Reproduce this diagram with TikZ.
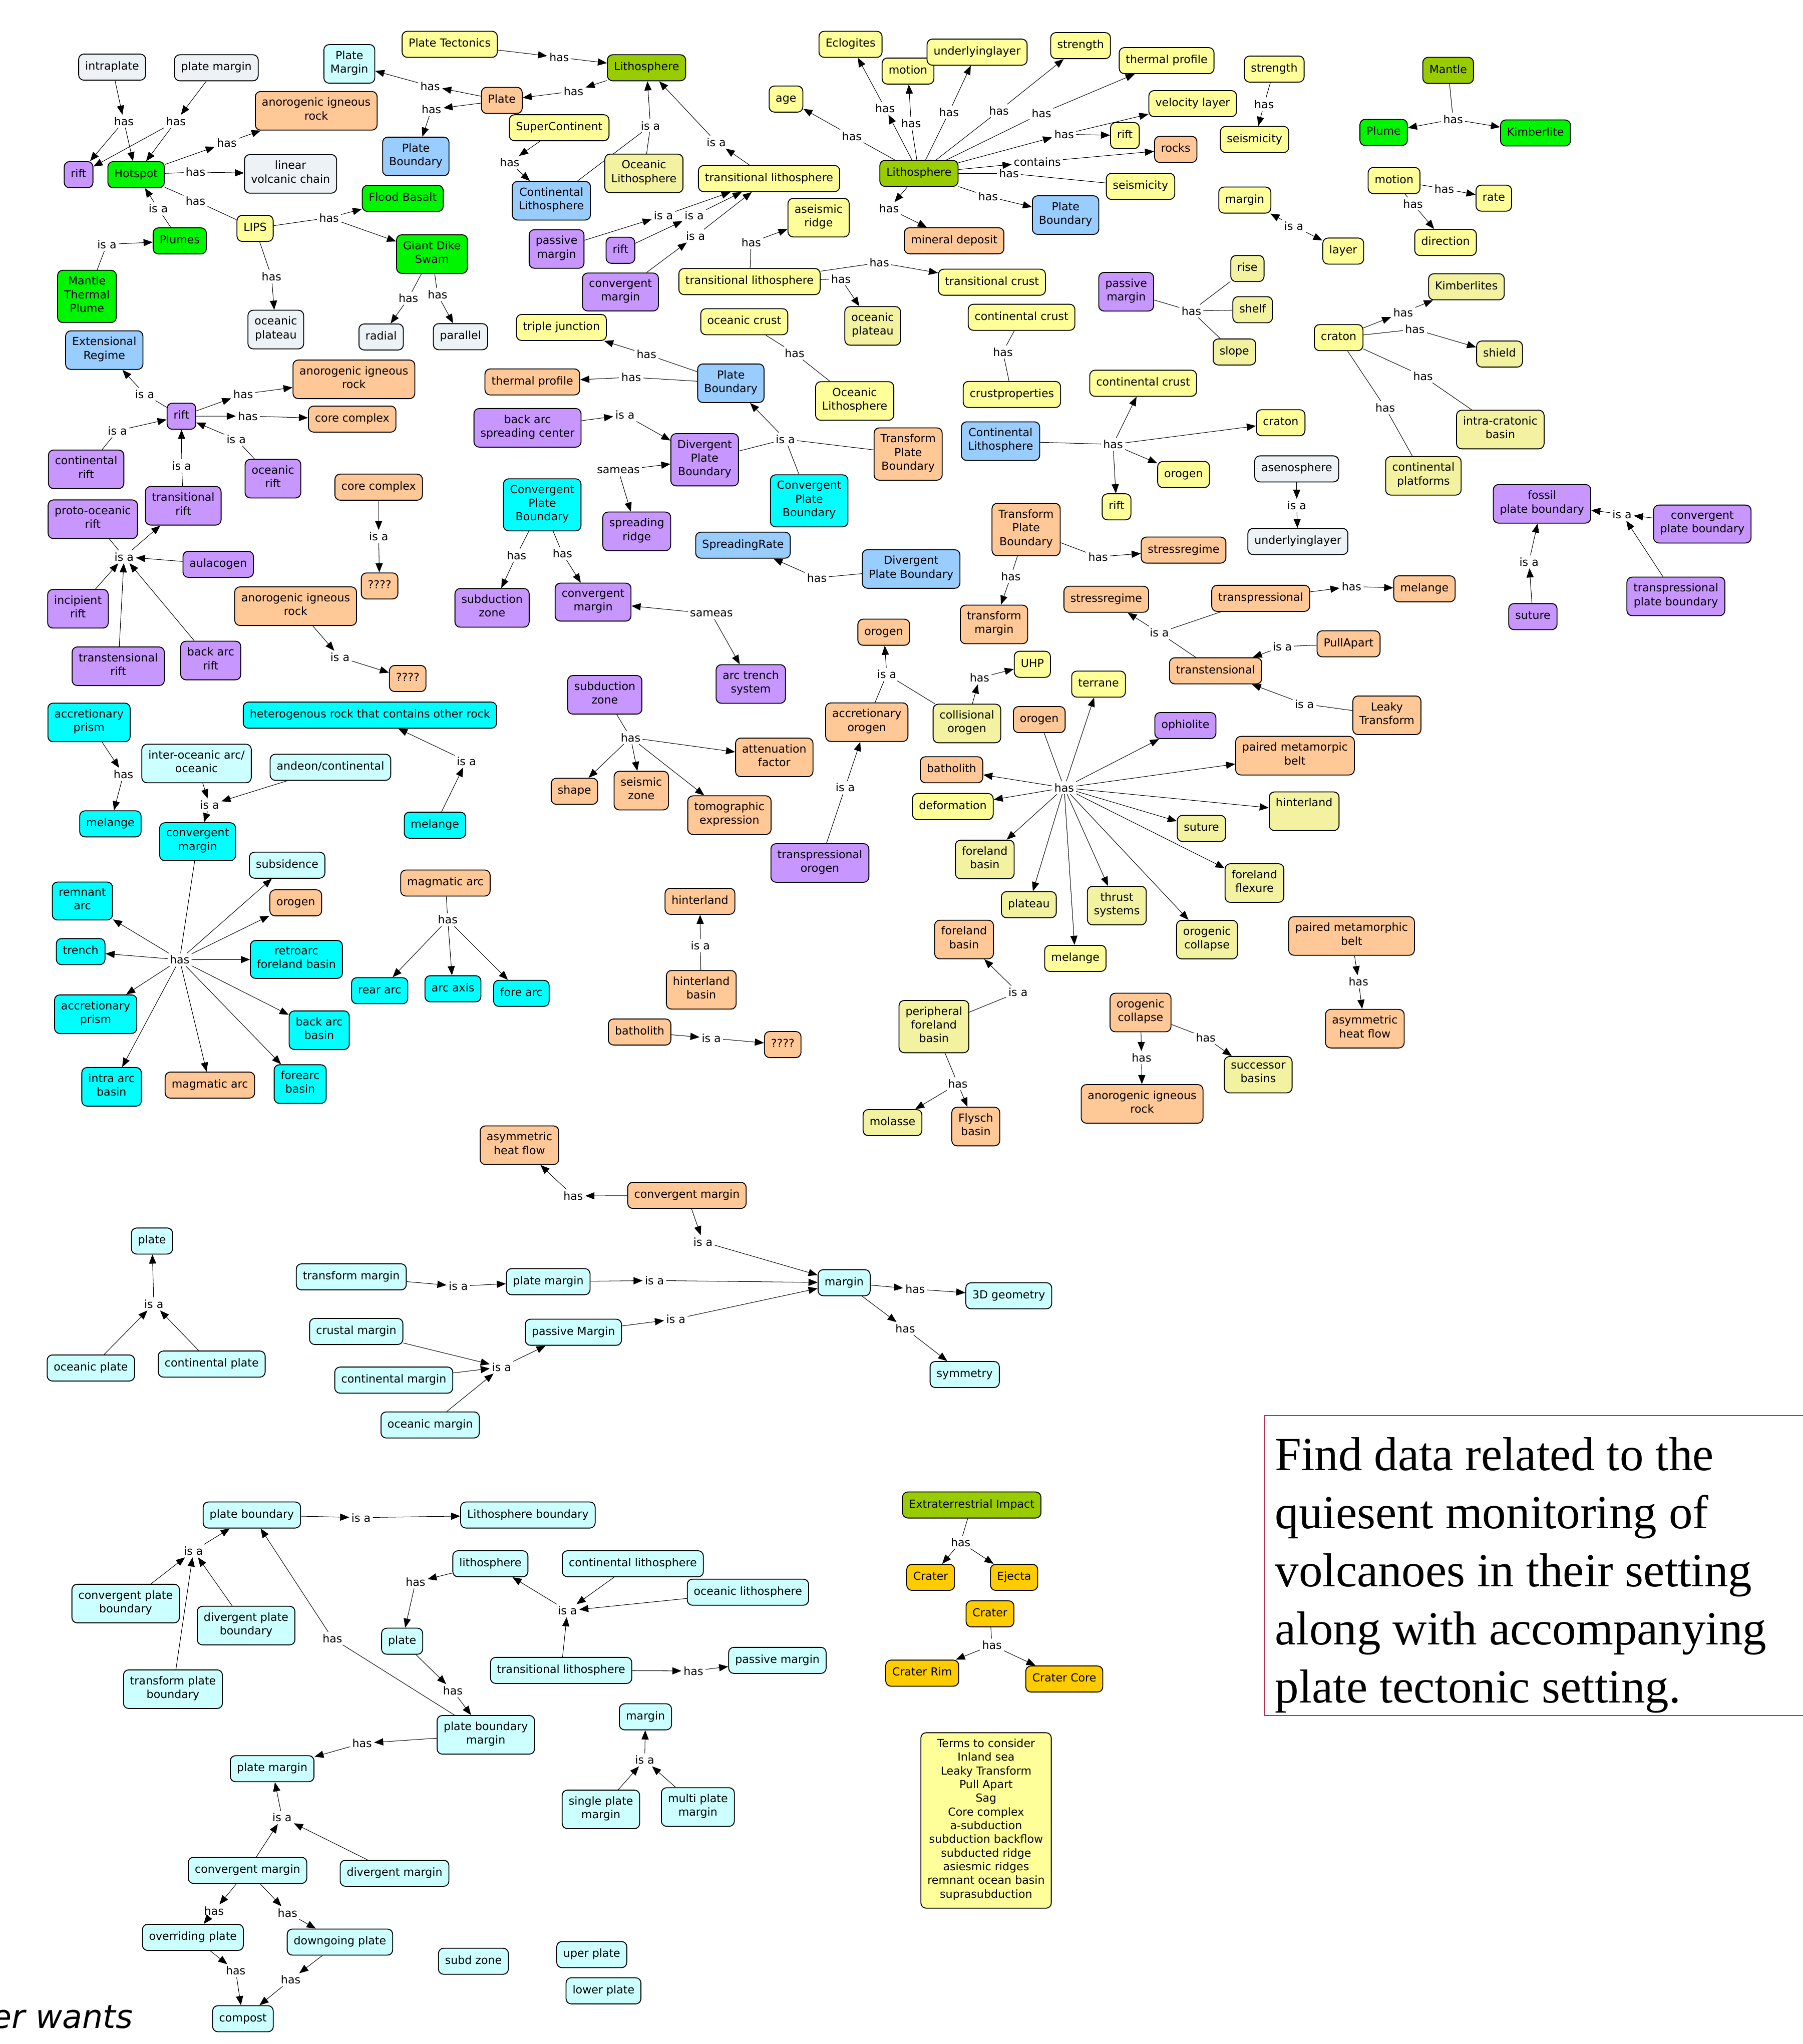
\documentclass[tikz,border=0pt]{standalone}
\usepackage{fontspec}
\setmainfont{DejaVu Sans}
\newfontfamily\notefont{Liberation Serif}
\usetikzlibrary{arrows.meta,backgrounds}
\definecolor{cyel}{RGB}{255,255,153}
\definecolor{ckha}{RGB}{242,242,160}
\definecolor{cora}{RGB}{255,200,150}
\definecolor{cpur}{RGB}{200,150,255}
\definecolor{cblu}{RGB}{153,204,255}
\definecolor{ccya}{RGB}{0,255,255}
\definecolor{clcy}{RGB}{204,255,255}
\definecolor{cgry}{RGB}{236,242,245}
\definecolor{cgrn}{RGB}{0,245,0}
\definecolor{coli}{RGB}{153,204,0}
\definecolor{cgol}{RGB}{255,204,0}
\definecolor{cbox}{RGB}{180,50,80}
\newcommand{\mapfont}{\fontsize{8.5}{10.5}\selectfont}
\tikzset{>={Triangle[length=7pt,width=5.5pt]},
  concept/.style={draw, line width=0.7pt, rounded corners=4pt, align=center,
    inner xsep=5pt, inner ysep=4.75pt, font=\mapfont,
    execute at begin node=\strut, execute at end node=\strut},
  yel/.style={concept, fill=cyel}, kha/.style={concept, fill=ckha},
  ora/.style={concept, fill=cora}, pur/.style={concept, fill=cpur},
  blu/.style={concept, fill=cblu}, cya/.style={concept, fill=ccya},
  lcy/.style={concept, fill=clcy}, gry/.style={concept, fill=cgry},
  grn/.style={concept, fill=cgrn}, oli/.style={concept, fill=coli},
  gol/.style={concept, fill=cgol},
  lnk/.style={inner sep=1.5pt, font=\mapfont}}

\begin{document}
\begin{tikzpicture}[x=1pt, y=-1pt]
    \useasboundingbox (0,0) rectangle (1383,1568);
    % hotspot
    \node[gry] (intra) at (86,51.5) {intraplate};
    \node[gry] (pmargA) at (166,52) {plate margin};
    \node[pur] (riftA) at (60.3,134) {rift};
    \node[grn] (hot) at (104.4,134) {Hotspot};
    \node[lnk] (h1) at (95,93) {has};
    \node[lnk] (h2) at (135,93) {has};
    \node[ora] (anorA) at (242.6,85) {anorogenic igneous\\rock};
    \node[lnk] (h3) at (174,109.4) {has};
    \node[gry] (linvc) at (222.9,133.4) {linear\\volcanic chain};
    \node[lnk] (h4) at (150,132) {has};
    \node[lnk] (h5) at (150,154) {has};
    \node[yel] (lips) at (195.7,175.2) {LIPS};
    \node[lnk] (i1) at (121.4,160) {is a};
    \node[grn] (plumes) at (137.9,184.8) {Plumes};
    \node[lnk] (i2) at (82,187.5) {is a};
    \node[grn] (mtp) at (66.7,227.4) {Mantle\\Thermal\\Plume};
    \node[lnk] (h6) at (252.4,167) {has};
    \node[grn] (flood) at (309,152.2) {Flood Basalt};
    \node[grn] (gds) at (331.4,194.9) {Giant Dike\\Swam};
    \node[lnk] (h7) at (208.3,212.2) {has};
    \node[gry] (ocplA) at (211.6,252.8) {oceanic\\plateau};
    \node[lnk] (h8) at (313.3,228.8) {has};
    \node[lnk] (h9) at (335.7,226.1) {has};
    \node[gry] (radial) at (292.4,258.5) {radial};
    \node[gry] (parallel) at (353.3,258.3) {parallel};
    % plate tectonics
    \node[lcy] (pmargB) at (268,49) {Plate\\Margin};
    \node[yel] (ptect) at (345,34) {Plate Tectonics};
    \node[oli] (lithA) at (496,52) {Lithosphere};
    \node[lnk] (h10) at (429,44) {has};
    \node[lnk] (h11) at (440,70) {has};
    \node[ora] (plate) at (385,77) {Plate};
    \node[lnk] (h12) at (330,66) {has};
    \node[lnk] (h13) at (331,84) {has};
    \node[blu] (pbA) at (319,120) {Plate\\Boundary};
    \node[yel] (superc) at (429,98) {SuperContinent};
    \node[lnk] (h14) at (391,124.6) {has};
    \node[blu] (contlA) at (423,154) {Continental\\Lithosphere};
    \node[kha] (oclA) at (494,133) {Oceanic\\Lithosphere};
    \node[lnk] (i3) at (499,96.5) {is a};
    \node[lnk] (i4) at (549.5,109) {is a};
    \node[yel] (tlA) at (590,137) {transitional lithosphere};
    \node[yel] (aseis) at (628,167) {aseismic\\ridge};
    \node[pur] (pasA) at (427,191) {passive\\margin};
    \node[pur] (riftB) at (476,192) {rift};
    \node[pur] (cmA) at (476,224) {convergent\\margin};
    \node[lnk] (i5) at (509,165.4) {is a};
    \node[lnk] (i6) at (532.6,165.4) {is a};
    \node[lnk] (i7) at (533.6,181) {is a};
    \node[yel] (tlB) at (575,216) {transitional lithosphere};
    \node[lnk] (h15) at (576.3,186) {has};
    \node[lnk] (h16) at (674.6,201.5) {has};
    \node[lnk] (h17) at (645.2,214) {has};
    \node[yel] (tcrust) at (761,216.5) {transitional crust};
    \node[kha] (ocplB) at (669.5,250) {oceanic\\plateau};
    % lithosphere
    \node[oli] (lithB) at (705,133) {Lithosphere};
    \node[yel] (age) at (603,76) {age};
    \node[yel] (eclog) at (652.5,34) {Eclogites};
    \node[yel] (motionA) at (696.6,54.5) {motion};
    \node[yel] (ulayA) at (749.6,40) {underlyinglayer};
    \node[yel] (strA) at (829,35) {strength};
    \node[yel] (thermA) at (895,46.5) {thermal profile};
    \node[yel] (vel) at (915,79.5) {velocity layer};
    \node[yel] (riftC) at (863,104) {rift};
    \node[ora] (rocks) at (902,114.6) {rocks};
    \node[yel] (seisA) at (875,143) {seismicity};
    \node[blu] (pbB) at (817.5,165) {Plate\\Boundary};
    \node[ora] (mindep) at (732,184.7) {mineral deposit};
    \node[lnk] (h18) at (653.5,104.4) {has};
    \node[lnk] (h19) at (679,83) {has};
    \node[lnk] (h20) at (699,94.7) {has};
    \node[lnk] (h21) at (728,86.3) {has};
    \node[lnk] (h22) at (766.4,85) {has};
    \node[lnk] (h23) at (799,87) {has};
    \node[lnk] (h24) at (816.4,103) {has};
    \node[lnk] (cont) at (795.8,124.2) {contains};
    \node[lnk] (h25) at (774,133) {has};
    \node[lnk] (h26) at (758,150.7) {has};
    \node[lnk] (h27) at (682,160) {has};
    % mantle, craton
    \node[yel] (strB) at (977.6,53) {strength};
    \node[lnk] (h28) at (969.8,80) {has};
    \node[yel] (seisB) at (962.5,107) {seismicity};
    \node[oli] (mantle) at (1111,54) {Mantle};
    \node[lnk] (h29) at (1114.8,91.5) {has};
    \node[grn] (plume) at (1061.5,101.6) {Plume};
    \node[grn] (kimbA) at (1178,102) {Kimberlite};
    \node[yel] (motionB) at (1069.5,138.5) {motion};
    \node[lnk] (h30) at (1108,144.8) {has};
    \node[yel] (rate) at (1146,152) {rate};
    \node[lnk] (h31) at (1084,156.4) {has};
    \node[yel] (direct) at (1109,186) {direction};
    \node[yel] (margA) at (955,153.5) {margin};
    \node[lnk] (i8) at (992.6,173.4) {is a};
    \node[yel] (layer) at (1030.5,192.6) {layer};
    \node[pur] (pasB) at (864,223.8) {passive\\margin};
    \node[lnk] (h32) at (914,238.6) {has};
    \node[kha] (rise) at (957,206) {rise};
    \node[kha] (shelf) at (961,237.6) {shelf};
    \node[kha] (slope) at (947,270) {slope};
    \node[yel] (cratA) at (1027,259) {craton};
    \node[kha] (kimbB) at (1125,220) {Kimberlites};
    \node[lnk] (h33) at (1076.5,239.6) {has};
    \node[lnk] (h34) at (1085.5,252.6) {has};
    \node[kha] (shield) at (1150.4,271.6) {shield};
    \node[lnk] (h35) at (1091.7,288.6) {has};
    \node[kha] (icb) at (1151,329.5) {intra-cratonic\\basin};
    \node[lnk] (h36) at (1062.7,312.6) {has};
    \node[kha] (cplat) at (1092,365) {continental\\platforms};
    \node[pur] (fossil) at (1183,386.5) {fossil\\plate boundary};
    \node[lnk] (i9) at (1244.4,394.5) {is a};
    \node[pur] (cpbA) at (1306,402) {convergent\\plate boundary};
    \node[pur] (tppb) at (1285.7,457.5) {transpressional\\plate boundary};
    \node[pur] (sutA) at (1176,473) {suture};
    \node[lnk] (i10) at (1173,431) {is a};
    % continental lithosphere, transform
    \node[yel] (ccrA) at (783.7,243.4) {continental crust};
    \node[lnk] (h37) at (769.4,270) {has};
    \node[yel] (cprop) at (776.3,302.6) {crustproperties};
    \node[yel] (ccrB) at (877,294) {continental crust};
    \node[blu] (contlB) at (767.6,338.4) {Continental\\Lithosphere};
    \node[lnk] (h38) at (853.9,340.9) {has};
    \node[yel] (cratB) at (982.5,324.3) {craton};
    \node[yel] (orogA) at (908,364) {orogen};
    \node[yel] (riftD) at (856.6,388.8) {rift};
    \node[gry] (aseno) at (994.8,359.7) {asenosphere};
    \node[lnk] (i11) at (994.8,387.6) {is a};
    \node[gry] (ulayB) at (995.7,415.4) {underlyinglayer};
    \node[ora] (tpbA) at (787.2,406.2) {Transform\\Plate\\Boundary};
    \node[lnk] (h39) at (842.4,427.2) {has};
    \node[ora] (stressA) at (908,422) {stressregime};
    \node[lnk] (h40) at (775.5,442.2) {has};
    \node[ora] (tmarg) at (762.6,479) {transform\\margin};
    \node[ora] (stressB) at (848.7,459.7) {stressregime};
    \node[ora] (transp) at (967.2,459) {transpressional};
    \node[lnk] (h41) at (1036.9,449.9) {has};
    \node[ora] (melA) at (1092.8,451.7) {melange};
    \node[lnk] (i12) at (889.4,485.4) {is a};
    \node[ora] (transt) at (932.6,514.6) {transtensional};
    \node[ora] (pull) at (1034.6,493.9) {PullApart};
    \node[lnk] (i13) at (983.8,496) {is a};
    \node[ora] (leaky) at (1064,548.7) {Leaky\\Transform};
    \node[lnk] (i14) at (1000.7,540) {is a};
    % plate boundary
    \node[yel] (tjunc) at (430.7,251.2) {triple junction};
    \node[ora] (thermB) at (408.4,293) {thermal profile};
    \node[blu] (pbC) at (560.7,294) {Plate\\Boundary};
    \node[lnk] (h42) at (484.3,289.4) {has};
    \node[lnk] (h43) at (496,271.8) {has};
    \node[yel] (occr) at (571,246.8) {oceanic crust};
    \node[lnk] (h44) at (609.6,271) {has};
    \node[yel] (oclB) at (655.7,307.6) {Oceanic\\Lithosphere};
    \node[pur] (basc) at (404.7,328.2) {back arc\\spreading center};
    \node[lnk] (i15) at (479.5,318.3) {is a};
    \node[pur] (dpbA) at (540.6,352.7) {Divergent\\Plate\\Boundary};
    \node[lnk] (i16) at (602.5,336.9) {is a};
    \node[cya] (cpbB) at (620.8,384.2) {Convergent\\Plate\\Boundary};
    \node[ora] (tpbB) at (696.7,348.3) {Transform\\Plate\\Boundary};
    \node[lnk] (same1) at (474.4,360.9) {sameas};
    \node[pur] (sridge) at (488.5,407.6) {spreading\\ridge};
    \node[cya] (cpbC) at (416,387.3) {Convergent\\Plate\\Boundary};
    \node[lnk] (h45) at (396.3,426) {has};
    \node[lnk] (h46) at (431.5,424.7) {has};
    \node[pur] (szA) at (377.5,466.3) {subduction\\zone};
    \node[pur] (cmB) at (455,461.9) {convergent\\margin};
    \node[lnk] (same2) at (545.8,470.9) {sameas};
    \node[pur] (ats) at (576,524.7) {arc trench\\system};
    \node[blu] (srate) at (570,418.2) {SpreadingRate};
    \node[lnk] (h47) at (626.7,443.3) {has};
    \node[blu] (dpbB) at (699,436.5) {Divergent\\Plate Boundary};
    \node[pur] (szB) at (464,533) {subduction\\zone};
    \node[lnk] (h48) at (483.8,565.8) {has};
    \node[ora] (atten) at (594,581) {attenuation\\factor};
    \node[ora] (shape) at (440.7,607) {shape};
    \node[ora] (seisz) at (492,606.5) {seismic\\zone};
    \node[ora] (tomo) at (559.6,625.3) {tomographic\\expression};
    % orogen
    \node[ora] (orogB) at (678,485) {orogen};
    \node[lnk] (i17) at (680.3,517.3) {is a};
    \node[ora] (accor) at (665,554) {accretionary\\orogen};
    \node[kha] (collor) at (741.8,555) {collisional\\orogen};
    \node[lnk] (i18) at (648.4,604) {is a};
    \node[pur] (tporo) at (629,662) {transpressional\\orogen};
    \node[lnk] (h49) at (751.5,520) {has};
    \node[yel] (uhp) at (792,509.6) {UHP};
    \node[yel] (terr) at (842.8,524.8) {terrane};
    \node[ora] (orogC) at (797.3,552) {orogen};
    \node[pur] (ophi) at (909.4,556.6) {ophiolite};
    \node[ora] (pmbA) at (993.5,579.7) {paired metamorpic\\belt};
    \node[lnk] (hub) at (816.4,604.3) {has};
    \node[kha] (hinA) at (1000.5,622.3) {hinterland\\\mbox{}};
    \node[kha] (sutB) at (921.7,635.5) {suture};
    \node[kha] (fflex) at (962.4,677.4) {foreland\\flexure};
    \node[kha] (ocolA) at (926,720.8) {orogenic\\collapse};
    \node[kha] (thrust) at (856.8,694.7) {thrust\\systems};
    \node[yel] (melB) at (825,735.2) {melange};
    \node[kha] (plat) at (789.3,694) {plateau};
    \node[kha] (fbasA) at (755.5,659.3) {foreland\\basin};
    \node[yel] (deform) at (731,618.7) {deformation};
    \node[ora] (bathA) at (730,590.5) {batholith};
    % basins
    \node[ora] (hinB) at (537,691.4) {hinterland};
    \node[lnk] (i19) at (537.3,725.4) {is a};
    \node[ora] (hinbas) at (538,759.3) {hinterland\\basin};
    \node[ora] (bathB) at (490.7,791.7) {batholith};
    \node[lnk] (i20) at (545.7,796.4) {is a};
    \node[ora] (qC) at (600.5,801.3) {????};
    \node[ora] (fbasB) at (739.6,720.7) {foreland\\basin};
    \node[lnk] (i21) at (781,761.2) {is a};
    \node[kha] (pfb) at (716.5,787.5) {peripheral\\foreland\\basin};
    \node[lnk] (h50) at (734.8,831.4) {has};
    \node[kha] (molasse) at (684.7,861.2) {molasse};
    \node[ora] (flysch) at (748.6,864.2) {Flysch\\basin};
    \node[ora] (ocolB) at (875,776.7) {orogenic\\collapse};
    \node[lnk] (h51) at (875.8,811.3) {has};
    \node[ora] (anorC) at (876.2,846.8) {anorogenic igneous\\rock};
    \node[lnk] (h52) at (925,796) {has};
    \node[kha] (succ) at (965.3,824.4) {successor\\basins};
    \node[ora] (pmbB) at (1036.9,718) {paired metamorphic\\belt};
    \node[lnk] (h53) at (1042.2,753.1) {has};
    \node[ora] (ahfA) at (1047.1,789.1) {asymmetric\\heat flow};
    \node[ora] (ahfB) at (398.5,878.5) {asymmetric\\heat flow};
    \node[ora] (cmC) at (527,917) {convergent margin};
    \node[lnk] (h54) at (439.8,917.4) {has};
    \node[lnk] (i22) at (539.3,952.6) {is a};
    % rift
    \node[blu] (extreg) at (80,268.6) {Extensional\\Regime};
    \node[lnk] (i23) at (111,302.3) {is a};
    \node[pur] (riftE) at (139.2,319.3) {rift};
    \node[lnk] (h55) at (186.6,302.3) {has};
    \node[ora] (anorB) at (271.5,291) {anorogenic igneous\\rock};
    \node[lnk] (h56) at (190.2,319.2) {has};
    \node[ora] (ccA) at (270.2,321.5) {core complex};
    \node[lnk] (i24) at (90.1,330.4) {is a};
    \node[pur] (crift) at (66.1,360) {continental\\rift};
    \node[lnk] (i25) at (139.4,357.2) {is a};
    \node[pur] (trift) at (140.6,388) {transitional\\rift};
    \node[lnk] (i26) at (181.2,337) {is a};
    \node[pur] (orift) at (209.4,367.2) {oceanic\\rift};
    \node[pur] (porift) at (71.2,398.3) {proto-oceanic\\rift};
    \node[lnk] (i27) at (95.2,427.1) {is a};
    \node[pur] (aulac) at (167.4,432.9) {aulacogen};
    \node[pur] (irift) at (59.8,467) {incipient\\rift};
    \node[pur] (ttrift) at (90.7,511.1) {transtensional\\rift};
    \node[pur] (barift) at (161.7,506.7) {back arc\\rift};
    \node[ora] (ccB) at (290.5,373.7) {core complex};
    \node[lnk] (i28) at (290.5,411.6) {is a};
    \node[ora] (qA) at (291.2,449.5) {????};
    \node[ora] (anorD) at (226.8,465) {anorogenic igneous\\rock};
    \node[lnk] (i29) at (260.8,504.2) {is a};
    \node[ora] (qB) at (312.8,520.5) {????};
    \node[cya] (hetero) at (283.8,548.6) {heterogenous rock that contains other rock};
    \node[lnk] (i30) at (357.8,583.8) {is a};
    \node[cya] (melC) at (333.7,633) {melange};
    \node[cya] (apA) at (68.3,554.2) {accretionary\\prism};
    \node[lnk] (h57) at (94.7,594) {has};
    \node[cya] (melD) at (84.7,632) {melange};
    \node[lcy] (interoc) at (150.8,585.7) {inter-oceanic arc/\\oceanic};
    \node[lcy] (andeon) at (253.5,588.6) {andeon/continental};
    \node[lnk] (i31) at (160.8,617.5) {is a};
    \node[cya] (cmD) at (151.6,645.7) {convergent\\margin};
    \node[lnk] (h58) at (137.8,736.2) {has};
    \node[lcy] (subsid) at (220.3,663.7) {subsidence};
    \node[ora] (orogD) at (226.9,692.6) {orogen};
    \node[cya] (remarc) at (63.2,691.2) {remnant\\arc};
    \node[cya] (trench) at (61.9,730) {trench};
    \node[cya] (retro) at (227.4,736) {retroarc\\foreland basin};
    \node[cya] (apB) at (73.4,778) {accretionary\\prism};
    \node[cya] (bab) at (244.9,790.3) {back arc\\basin};
    \node[cya] (iab) at (85.6,833.7) {intra arc\\basin};
    \node[ora] (magA) at (161,832.4) {magmatic arc};
    \node[cya] (fab) at (230.3,831.6) {forearc\\basin};
    \node[ora] (magB) at (341.7,677.4) {magmatic arc};
    \node[lnk] (h59) at (343.5,705.5) {has};
    \node[cya] (reararc) at (291.3,760) {rear arc};
    \node[cya] (arcaxis) at (347.5,758.5) {arc axis};
    \node[cya] (forearc) at (400,762) {fore arc};
    % margin
    \node[lcy] (plateB) at (116.6,952) {plate};
    \node[lnk] (i32) at (118,1000.3) {is a};
    \node[lcy] (ocplt) at (69.7,1049.4) {oceanic plate};
    \node[lcy] (coplt) at (162.4,1046.4) {continental plate};
    \node[lcy] (tmargB) at (269.5,979.5) {transform margin};
    \node[lnk] (i33) at (351.6,986.6) {is a};
    \node[lcy] (pmargC) at (420.6,983.2) {plate margin};
    \node[lnk] (i34) at (502.1,982.3) {is a};
    \node[lcy] (margB) at (647.6,984) {margin};
    \node[lnk] (h60) at (702.1,988.9) {has};
    \node[lcy] (geo) at (773.9,994) {3D geometry};
    \node[lnk] (h61) at (694.5,1019.2) {has};
    \node[lcy] (symm) at (740.1,1054.4) {symmetry};
    \node[lnk] (i35) at (518.5,1011.8) {is a};
    \node[lcy] (pasC) at (439.9,1022) {passive Margin};
    \node[lcy] (crmarg) at (273.3,1021.4) {crustal margin};
    \node[lcy] (comarg) at (302.1,1058.7) {continental margin};
    \node[lcy] (ocmarg) at (330,1093.1) {oceanic margin};
    \node[lnk] (i36) at (384.8,1048.7) {is a};
    % plate boundary margin
    \node[lcy] (pbD) at (193.2,1162.2) {plate boundary};
    \node[lnk] (i37) at (277,1164.2) {is a};
    \node[lcy] (lbound) at (405,1162.2) {Lithosphere boundary};
    \node[lnk] (i38) at (148.4,1189.7) {is a};
    \node[lcy] (cpbD) at (96.4,1230.1) {convergent plate\\boundary};
    \node[lcy] (dpbC) at (188.8,1247) {divergent plate\\boundary};
    \node[lcy] (tpbC) at (132.7,1295.8) {transform plate\\boundary};
    \node[lnk] (h62) at (255,1256.8) {has};
    \node[lcy] (lithC) at (376.2,1199.6) {lithosphere};
    \node[lnk] (h63) at (318.8,1213.6) {has};
    \node[lcy] (plateC) at (308.5,1259) {plate};
    \node[lnk] (h64) at (347.4,1296.9) {has};
    \node[lcy] (pbm) at (372.7,1330.8) {plate boundary\\margin};
    \node[lcy] (contlC) at (485.5,1199.6) {continental lithosphere};
    \node[lcy] (oclC) at (573.8,1221.4) {oceanic lithosphere};
    \node[lnk] (i39) at (435.3,1235.6) {is a};
    \node[lcy] (tlC) at (430.5,1281.4) {transitional lithosphere};
    \node[lnk] (h65) at (532,1281.8) {has};
    \node[lcy] (pasD) at (596.4,1273.7) {passive margin};
    \node[lnk] (h66) at (277.8,1337.3) {has};
    \node[lcy] (pmargD) at (208.8,1356.8) {plate margin};
    \node[lnk] (i40) at (216.4,1394.2) {is a};
    \node[lcy] (cmE) at (189.9,1434.8) {convergent margin};
    \node[lcy] (dmarg) at (302.7,1437) {divergent margin};
    \node[lnk] (h67) at (164.2,1465.9) {has};
    \node[lnk] (h68) at (220.6,1467.3) {has};
    \node[lcy] (overr) at (148,1486.2) {overriding plate};
    \node[lcy] (downg) at (260.8,1489.8) {downgoing plate};
    \node[lnk] (h69) at (180.8,1511.8) {has};
    \node[lnk] (h70) at (223,1518.7) {has};
    \node[lcy] (compost) at (186.4,1548.6) {compost};
    \node[lcy] (subdz) at (363.2,1504.5) {subd zone};
    \node[lcy] (uperp) at (454,1499.4) {uper plate};
    \node[lcy] (lowerp) at (463,1527.2) {lower plate};
    \node[lcy] (margC) at (495.2,1317) {margin};
    \node[lnk] (i41) at (494.6,1350) {is a};
    \node[lcy] (spm) at (461,1388) {single plate\\margin};
    \node[lcy] (mpm) at (535.4,1386.2) {multi plate\\margin};
    % impact
    \node[oli] (extimp) at (745.5,1154.5) {Extraterrestrial Impact};
    \node[lnk] (h71) at (737,1183) {has};
    \node[gol] (craterA) at (714,1210) {Crater};
    \node[gol] (ejecta) at (778,1210) {Ejecta};
    \node[gol] (craterB) at (759.5,1238) {Crater};
    \node[lnk] (h72) at (761,1262) {has};
    \node[gol] (crim) at (707.5,1283.5) {Crater Rim};
    \node[gol] (ccore) at (816.5,1288) {Crater Core};
    \node[yel] (terms) at (756.5,1396.5) {Terms to consider\\Inland sea\\Leaky Transform\\Pull Apart\\Sag\\Core complex\\a-subduction\\subduction backflow\\subducted ridge\\asiesmic ridges\\remnant ocean basin\\suprasubduction};
    % notes
    \draw[cbox, line width=0.7pt] (970,1086) rectangle (1395,1316);
    \node[font={\notefont\fontsize{36.5}{44.5}\selectfont}, align=left, anchor=north west, inner sep=0pt] (task) at (978,1102.5) {Find data related to the\\quiesent monitoring of\\volcanoes in their setting\\along with accompanying\\plate tectonic setting.};
    \node[font={\itshape\fontsize{25}{28}\selectfont}, anchor=base east, inner sep=0pt] (wants) at (102,1556) {er wants};

    \begin{scope}[on background layer, line width=0.6pt]
    \draw[->] (intra) -- (h1); \draw[->] (h1) -- (riftA); \draw[->] (h1) -- (hot);
    \draw[->] (pmargA) -- (h2); \draw[->] (h2) -- (riftA); \draw[->] (h2) -- (hot);
    \draw[->] (hot) -- (h3); \draw[->] (h3) -- (anorA);
    \draw (hot) -- (h4); \draw[->] (h4) -- (linvc);
    \draw (hot) -- (h5); \draw (h5) -- (lips);
    \draw (plumes) -- (i1); \draw[->] (i1) -- (hot);
    \draw (mtp) -- (i2); \draw[->] (i2) -- (plumes);
    \draw (lips) -- (h6); \draw[->] (h6) -- (flood); \draw[->] (h6) -- (gds);
    \draw (lips) -- (h7); \draw[->] (h7) -- (ocplA);
    \draw (gds) -- (h8); \draw[->] (h8) -- (radial);
    \draw (gds) -- (h9); \draw[->] (h9) -- (parallel);
    \draw[->] (ptect) -- (h10); \draw[->] (h10) -- (lithA);
    \draw[->] (lithA) -- (h11); \draw[->] (h11) -- (plate);
    \draw[->] (plate) -- (h12); \draw[->] (h12) -- (pmargB);
    \draw[->] (plate) -- (h13); \draw[->] (h13) -- (pbA);
    \draw[->] (superc) -- (h14); \draw[->] (h14) -- (contlA);
    \draw (contlA) -- (i3); \draw (oclA) -- (i3); \draw[->] (i3) -- (lithA);
    \draw[->] (tlA) -- (i4); \draw[->] (i4) -- (lithA);
    \draw[->] (pasA) -- (i5); \draw[->] (i5) -- (tlA);
    \draw[->] (riftB) -- (i6); \draw[->] (i6) -- (tlA);
    \draw[->] (cmA) -- (i7); \draw[->] (i7) -- (tlA);
    \draw (tlB) -- (h15); \draw[->] (h15) -- (aseis);
    \draw (tlB) -- (h16); \draw[->] (h16) -- (tcrust);
    \draw (tlB) -- (h17); \draw[->] (h17) -- (ocplB);
    \draw (lithB) -- (h18); \draw[->] (h18) -- (age);
    \draw[->] (lithB) -- (h19); \draw[->] (h19) -- (eclog);
    \draw (lithB) -- (h20); \draw[->] (h20) -- (motionA);
    \draw (lithB) -- (h21); \draw[->] (h21) -- (ulayA);
    \draw (lithB) -- (h22); \draw[->] (h22) -- (strA);
    \draw (lithB) -- (h23); \draw[->] (h23) -- (thermA);
    \draw[->] (lithB) -- (h24); \draw[->] (h24) -- (vel); \draw[->] (h24) -- (riftC);
    \draw[->] (lithB) -- (cont); \draw[->] (cont) -- (rocks);
    \draw (lithB) -- (h25); \draw (h25) -- (seisA);
    \draw (lithB) -- (h26); \draw[->] (h26) -- (pbB);
    \draw[->] (lithB) -- (h27); \draw[->] (h27) -- (mindep);
    \draw (strB) -- (h28); \draw[->] (h28) -- (seisB);
    \draw (mantle) -- (h29); \draw[->] (h29) -- (plume); \draw[->] (h29) -- (kimbA);
    \draw (motionB) -- (h30); \draw[->] (h30) -- (rate);
    \draw (motionB) -- (h31); \draw[->] (h31) -- (direct);
    \draw[->] (i8) -- (margA); \draw[->] (i8) -- (layer);
    \draw (pasB) -- (h32); \foreach \t in {rise,shelf,slope} \draw (h32) -- (\t);
    \draw[->] (cratA) -- (h33); \draw[->] (h33) -- (kimbB);
    \draw (cratA) -- (h34); \draw[->] (h34) -- (shield);
    \draw (cratA) -- (h35); \draw (h35) -- (icb);
    \draw (cratA) -- (h36); \draw (h36) -- (cplat);
    \draw[->] (cpbA) -- (i9); \draw[->] (tppb) -- (i9); \draw[->] (i9) -- (fossil);
    \draw[->] (sutA) -- (i10); \draw[->] (i10) -- (fossil);
    \draw (ccrA) -- (h37); \draw (h37) -- (cprop);
    \draw (contlB) -- (h38); \foreach \t in {ccrB,cratB,orogA,riftD} \draw[->] (h38) -- (\t);
    \draw[->] (aseno) -- (i11); \draw[->] (i11) -- (ulayB);
    \draw (tpbA) -- (h39); \draw[->] (h39) -- (stressA);
    \draw (tpbA) -- (h40); \draw[->] (h40) -- (tmarg);
    \draw (transp) -- (i12); \draw (transt) -- (i12); \draw[->] (i12) -- (stressB);
    \draw[->] (transp) -- (h41); \draw[->] (h41) -- (melA);
    \draw (pull) -- (i13); \draw[->] (i13) -- (transt);
    \draw (leaky) -- (i14); \draw[->] (i14) -- (transt);
    \draw (pbC) -- (h42); \draw[->] (h42) -- (thermB);
    \draw (pbC) -- (h43); \draw[->] (h43) -- (tjunc);
    \draw (occr) -- (h44); \draw (h44) -- (oclB);
    \draw[->] (basc) -- (i15); \draw[->] (i15) -- (dpbA);
    \foreach \s in {dpbA,cpbB,tpbB} \draw (\s) -- (i16);
    \draw[->] (i16) -- (pbC);
    \draw[->] (same1) -- (dpbA); \draw[->] (same1) -- (sridge);
    \draw (cpbC) -- (h45); \draw[->] (h45) -- (szA);
    \draw (cpbC) -- (h46); \draw[->] (h46) -- (cmB);
    \draw[->] (same2) -- (cmB); \draw[->] (same2) -- (ats);
    \draw (dpbB) -- (h47); \draw[->] (h47) -- (srate);
    \draw (szB) -- (h48); \foreach \t in {atten,shape,seisz,tomo} \draw[->] (h48) -- (\t);
    \draw (accor) -- (i17); \draw (collor) -- (i17); \draw[->] (i17) -- (orogB);
    \draw (tporo) -- (i18); \draw[->] (i18) -- (accor);
    \draw[->] (collor) -- (h49); \draw[->] (h49) -- (uhp);
    \draw (orogC) -- (hub);
    \foreach \t in {terr,ophi,pmbA,hinA,sutB,fflex,ocolA,thrust,melB,plat,fbasA,deform,bathA} \draw[->] (hub) -- (\t);
    \draw (hinbas) -- (i19); \draw[->] (i19) -- (hinB);
    \draw[->] (bathB) -- (i20); \draw[->] (i20) -- (qC);
    \draw (pfb) -- (i21); \draw[->] (i21) -- (fbasB);
    \draw (pfb) -- (h50); \draw[->] (h50) -- (molasse); \draw[->] (h50) -- (flysch);
    \draw[->] (ocolB) -- (h51); \draw[->] (h51) -- (anorC);
    \draw (ocolB) -- (h52); \draw[->] (h52) -- (succ);
    \draw[->] (pmbB) -- (h53); \draw[->] (h53) -- (ahfA);
    \draw[->] (cmC) -- (h54); \draw[->] (h54) -- (ahfB);
    \draw[->] (cmC) -- (i22); \draw[->] (i22) -- (margB);
    \draw (riftE) -- (i23); \draw[->] (i23) -- (extreg);
    \draw[->] (riftE) -- (h55); \draw[->] (h55) -- (anorB);
    \draw[->] (riftE) -- (h56); \draw[->] (h56) -- (ccA);
    \draw (crift) -- (i24); \draw[->] (i24) -- (riftE);
    \draw (trift) -- (i25); \draw[->] (i25) -- (riftE);
    \draw (orift) -- (i26); \draw[->] (i26) -- (riftE);
    \draw (porift) -- (i27);
    \foreach \s in {aulac,irift,ttrift,barift} \draw[->] (\s) -- (i27);
    \draw[->] (i27) -- (trift);
    \draw[->] (ccB) -- (i28); \draw[->] (i28) -- (qA);
    \draw[->] (anorD) -- (i29); \draw[->] (i29) -- (qB);
    \draw[->] (melC) -- (i30); \draw[->] (i30) -- (hetero);
    \draw[->] (apA) -- (h57); \draw[->] (h57) -- (melD);
    \draw[->] (interoc) -- (i31); \draw[->] (andeon) -- (i31); \draw[->] (i31) -- (cmD);
    \draw (cmD) -- (h58);
    \foreach \t in {subsid,orogD,remarc,trench,retro,apB,bab,iab,magA,fab} \draw[->] (h58) -- (\t);
    \draw (magB) -- (h59); \foreach \t in {reararc,arcaxis,forearc} \draw[->] (h59) -- (\t);
    \draw[->] (ocplt) -- (i32); \draw[->] (coplt) -- (i32); \draw[->] (i32) -- (plateB);
    \draw[->] (tmargB) -- (i33); \draw[->] (i33) -- (pmargC);
    \draw[->] (pmargC) -- (i34); \draw[->] (i34) -- (margB);
    \draw[->] (margB) -- (h60); \draw[->] (h60) -- (geo);
    \draw[->] (margB) -- (h61); \draw[->] (h61) -- (symm);
    \draw[->] (pasC) -- (i35); \draw[->] (i35) -- (margB);
    \foreach \s in {crmarg,comarg,ocmarg} \draw[->] (\s) -- (i36);
    \draw[->] (i36) -- (pasC);
    \draw[->] (pbD) -- (i37); \draw[->] (i37) -- (lbound);
    \foreach \s in {cpbD,dpbC,tpbC} \draw[->] (\s) -- (i38);
    \draw[->] (i38) -- (pbD);
    \draw (pbm) -- (h62); \draw[->] (h62) -- (pbD);
    \draw[->] (lithC) -- (h63); \draw[->] (h63) -- (plateC);
    \draw[->] (plateC) -- (h64); \draw[->] (h64) -- (pbm);
    \foreach \s in {contlC,oclC,tlC} \draw[->] (\s) -- (i39);
    \draw[->] (i39) -- (lithC);
    \draw[->] (tlC) -- (h65); \draw[->] (h65) -- (pasD);
    \draw[->] (pbm) -- (h66); \draw[->] (h66) -- (pmargD);
    \draw[->] (cmE) -- (i40); \draw[->] (dmarg) -- (i40); \draw[->] (i40) -- (pmargD);
    \draw[->] (cmE) -- (h67); \draw[->] (h67) -- (overr);
    \draw[->] (cmE) -- (h68); \draw[->] (h68) -- (downg);
    \draw[->] (overr) -- (h69); \draw[->] (h69) -- (compost);
    \draw[->] (downg) -- (h70); \draw[->] (h70) -- (compost);
    \draw[->] (spm) -- (i41); \draw[->] (mpm) -- (i41); \draw[->] (i41) -- (margC);
    \draw (extimp) -- (h71); \draw[->] (h71) -- (craterA); \draw[->] (h71) -- (ejecta);
    \draw (craterB) -- (h72); \draw[->] (h72) -- (crim); \draw[->] (h72) -- (ccore);
    \end{scope}
\end{tikzpicture}
\end{document}
